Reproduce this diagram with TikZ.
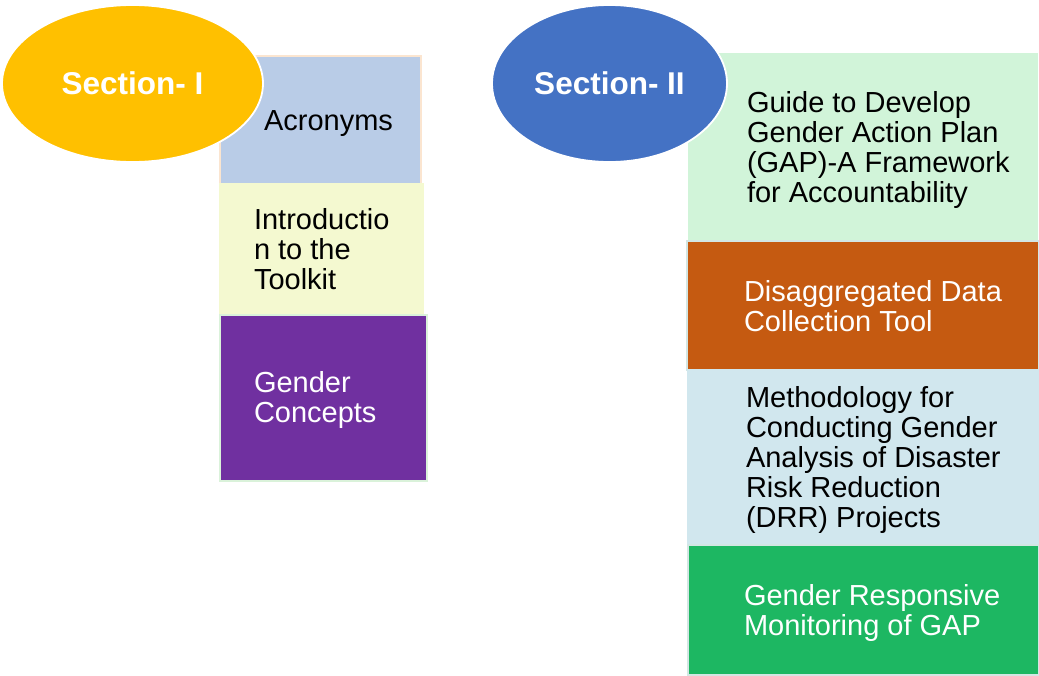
\documentclass[tikz,border=0pt]{standalone}
\usepackage{fontspec}
\setmainfont{Liberation Sans}
\usetikzlibrary{positioning, shapes.geometric}

\definecolor{secone}{HTML}{FFC000}
\definecolor{sectwo}{HTML}{4472C4}
\definecolor{acrfill}{HTML}{B9CCE7}
\definecolor{acrline}{HTML}{FBE5D0}
\definecolor{introfill}{HTML}{F4F9D0}
\definecolor{conceptfill}{HTML}{7030A0}
\definecolor{conceptline}{HTML}{DAF2DA}
\definecolor{gapfill}{HTML}{D1F4D9}
\definecolor{datafill}{HTML}{C55A11}
\definecolor{methodfill}{HTML}{D1E7EE}
\definecolor{monitorfill}{HTML}{1DB762}
\definecolor{paleline}{HTML}{D3E6E3}

\begin{document}
\begin{tikzpicture}[
    x=1pt, y=-1pt,
    every node/.style = {outer sep=0pt},
    part/.style = {rectangle, inner sep=0pt, line width=1.2pt, anchor=north west},
    section/.style = {ellipse, draw=white, line width=1.8pt, inner sep=0pt, minimum height=157pt, text=white, font=\fontsize{31.5}{34}\selectfont\bfseries},
    entry/.style = {anchor=west, inner sep=0pt, align=left, font=\fontsize{29}{30}\selectfont}
]
    \useasboundingbox (0,0) rectangle (1039,675);

    % left stack
    \node [part, fill=acrfill, draw=acrline, minimum width=201pt, minimum height=128pt] (acr) at (220,56) {};
    \node [part, fill=introfill, draw=introfill, minimum width=203pt, minimum height=131pt, below right=0pt of acr.south west] (intro) {};
    \node [part, fill=conceptfill, draw=conceptline, minimum width=207pt, minimum height=166pt, below right=0pt of intro.south west] (concept) {};

    % right stack
    \node [part, fill=gapfill, draw=gapfill, minimum width=348pt, minimum height=187pt] (gap) at (689,54) {};
    \node [part, fill=datafill, draw=paleline, minimum width=352pt, minimum height=129pt, below right=0pt and -2pt of gap.south west] (data) {};
    \node [part, fill=methodfill, draw=methodfill, minimum width=351pt, minimum height=175pt, below right=0pt and 1pt of data.south west] (method) {};
    \node [part, fill=monitorfill, draw=paleline, minimum width=351pt, minimum height=130pt, below right=0pt of method.south west] (monitor) {};

    % section heads sit on top of the first boxes
    \node [section, fill=secone, minimum width=261pt] (secI) at (132.5,83.5) {Section- I};
    \node [section, fill=sectwo, minimum width=235pt] (secII) at (609.5,83.5) {Section- II};

    % box texts
    \node [entry] (acrtext) at ([xshift=44pt, yshift=-4pt]acr.west) {Acronyms};
    \node [entry] (introtext) at ([xshift=34pt]intro.west) {Introductio\\n to the\\Toolkit};
    \node [entry, text=white] (concepttext) at ([xshift=34pt, yshift=-2pt]concept.west) {Gender\\Concepts};
    \node [entry] (gaptext) at ([xshift=58pt, yshift=-2pt]gap.west) {Guide to Develop\\Gender Action Plan\\(GAP)-A Framework\\for Accountability};
    \node [entry, text=white] (datatext) at ([xshift=57pt, yshift=-1pt]data.west) {Disaggregated Data\\Collection Tool};
    \node [entry] (methodtext) at ([xshift=58pt, yshift=-2pt]method.west) {Methodology for\\Conducting Gender\\Analysis of Disaster\\Risk Reduction\\(DRR) Projects};
    \node [entry, text=white] (monitortext) at ([xshift=56pt, yshift=-3pt]monitor.west) {Gender Responsive\\Monitoring of GAP};
\end{tikzpicture}
\end{document}
